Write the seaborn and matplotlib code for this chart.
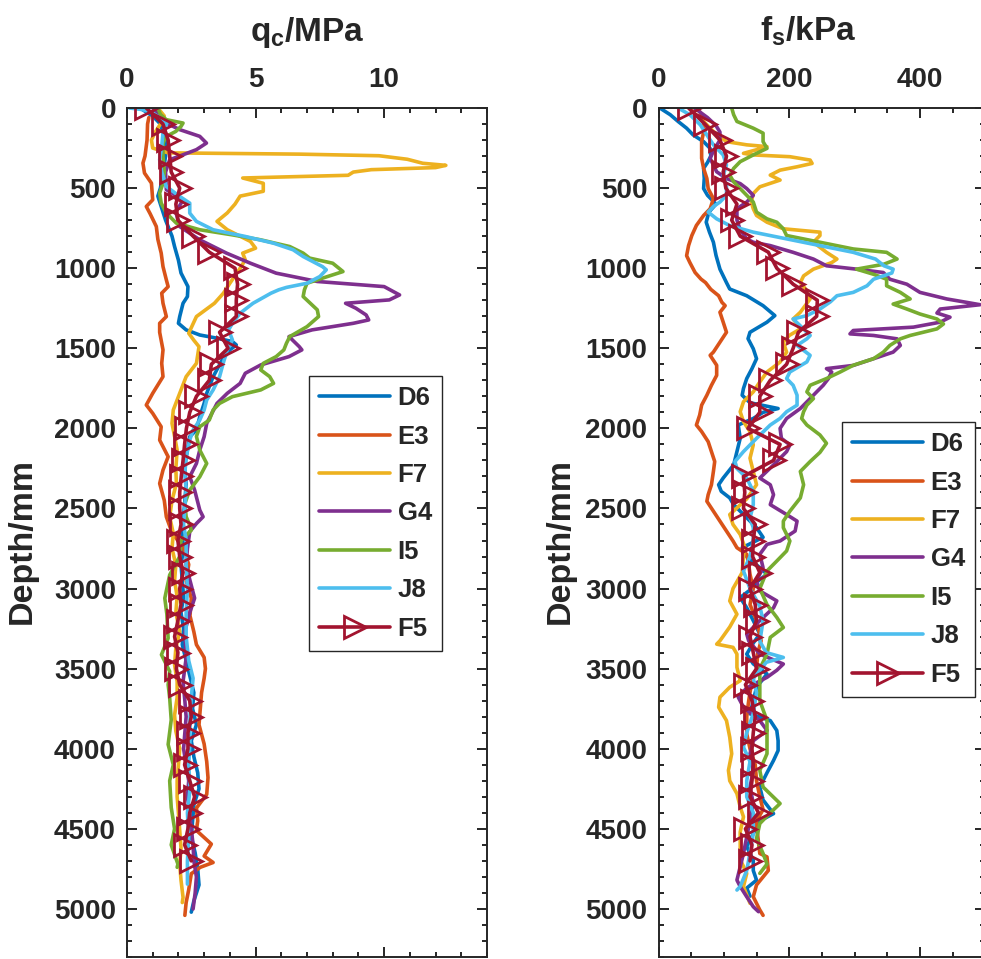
import matplotlib
matplotlib.use('Agg')
import matplotlib.pyplot as plt
import seaborn as sns
from matplotlib.ticker import MultipleLocator

sns.set_style('ticks')
plt.rcParams['font.family'] = ['Liberation Sans', 'DejaVu Sans']
plt.rcParams['font.weight'] = 'bold'
plt.rcParams['mathtext.fontset'] = 'custom'
plt.rcParams['mathtext.rm'] = 'Liberation Sans:bold'
plt.rcParams['mathtext.it'] = 'Liberation Sans:bold'
plt.rcParams['mathtext.bf'] = 'Liberation Sans:bold'

series_names = ['D6', 'E3', 'F7', 'G4', 'I5', 'J8', 'F5']
series_colors = ['#0072BD', '#D95319', '#EDB120', '#7E2F8E', '#77AC30', '#4DBEEE', '#A2142F']

# ---------------- q_c (MPa) : (depth mm, value) ----------------
qc_D6 = [(0,0.5),(50,1.0),(100,1.3),(200,1.5),(300,1.5),(400,1.4),(500,1.3),(550,1.2),(600,1.3),(700,1.5),
         (800,1.75),(865,1.85),(950,2.0),(1030,2.1),(1115,2.37),(1177,2.35),(1219,2.18),(1302,2.05),(1344,2.0),
         (1385,2.3),(1417,2.83),(1437,3.5),(1458,4.1),(1479,4.25),(1510,4.0),(1573,3.7),(1677,3.35),(1781,3.1),
         (1844,3.0),(1927,2.83),(2010,2.7),(2052,2.44),(2135,2.35),(2240,2.24),(2350,2.3),(2450,2.25),(2550,2.2),
         (2650,2.15),(2750,2.2),(2850,2.1),(2950,2.15),(3050,2.2),(3150,2.1),(3250,2.2),(3350,2.15),(3450,2.3),
         (3550,2.45),(3650,2.6),(3750,2.55),(3850,2.7),(3950,2.5),(4050,2.6),(4150,2.75),(4250,2.8),(4350,2.6),
         (4450,2.55),(4550,2.5),(4650,2.65),(4750,2.75),(4850,2.8),(4950,2.6),(5020,2.5)]
qc_E3 = [(60,0.85),(100,0.8),(200,0.78),(300,0.7),(344,0.62),(406,0.68),(469,0.95),(573,1.0),(615,0.75),(660,0.9),
         (740,1.14),(820,1.2),(906,1.33),(990,1.4),(1073,1.53),(1115,1.6),(1156,1.35),(1219,1.4),(1302,1.53),
         (1344,1.27),(1400,1.27),(1510,1.4),(1594,1.35),(1677,1.4),(1781,1.0),(1854,0.75),(1906,1.0),(1990,1.33),
         (2073,1.27),(2177,1.6),(2260,1.4),(2344,1.27),(2450,1.45),(2552,1.53),(2650,1.75),(2750,2.2),(2850,2.4),
         (2950,2.3),(3060,2.5),(3170,2.45),(3270,2.6),(3350,2.7),(3430,3.0),(3500,3.05),(3560,3.0),(3650,2.9),
         (3750,2.85),(3850,2.8),(3970,3.0),(4080,3.1),(4180,3.15),(4285,3.1),(4370,2.7),(4450,2.75),(4510,2.7),
         (4595,3.28),(4670,3.0),(4710,3.35),(4740,2.85),(4780,2.5),(4880,2.4),(4960,2.3),(5040,2.25)]
qc_F7 = [(0,1.2),(50,1.45),(100,1.3),(150,1.1),(200,0.95),(250,1.0),(280,1.6),(288,6.7),(298,9.8),(320,10.9),
         (345,11.5),(358,12.4),(372,12.0),(385,9.5),(400,8.8),(420,8.6),(437,4.5),(470,5.3),(520,5.3),(550,4.4),
         (600,4.2),(655,3.9),(708,3.5),(760,3.9),(833,4.8),(875,5.0),(906,4.5),(948,4.6),(1000,4.4),(1094,4.0),
         (1156,3.75),(1219,3.4),(1302,2.7),(1406,2.4),(1450,2.6),(1490,2.8),(1594,2.7),(1677,2.3),(1781,2.05),
         (1885,1.8),(1969,1.75),(2050,1.85),(2135,1.95),(2250,1.9),(2344,1.92),(2450,1.75),(2552,1.66),(2656,1.8),
         (2750,1.75),(2850,1.9),(2950,1.85),(3050,1.95),(3150,1.9),(3270,2.05),(3370,1.9),(3475,1.85),(3580,1.95),
         (3680,1.95),(3790,1.85),(3890,1.9),(4000,2.05),(4100,2.0),(4200,1.95),(4300,1.95),(4400,2.0),(4510,2.05),
         (4620,2.1),(4720,2.05),(4820,2.1),(4928,2.18),(4960,2.15)]
qc_G4 = [(0,1.0),(50,1.3),(100,1.6),(135,2.05),(177,2.83),(219,3.09),(260,2.7),(292,2.18),(323,1.66),(400,1.5),
         (510,1.53),(573,2.18),(650,1.9),(740,2.05),(823,2.83),(906,3.87),(969,4.8),(1031,5.8),(1083,7.4),
         (1115,10.0),(1167,10.6),(1198,10.2),(1219,8.5),(1250,8.9),(1292,9.3),(1323,9.4),(1344,8.8),(1385,7.2),
         (1427,6.3),(1490,6.7),(1510,6.8),(1552,6.3),(1604,5.2),(1656,4.6),(1719,4.4),(1781,3.9),(1844,3.5),
         (1906,3.3),(1969,3.1),(2052,3.0),(2135,2.83),(2219,2.7),(2302,2.44),(2385,2.63),(2510,2.83),(2552,2.96),
         (2594,2.7),(2645,2.44),(2750,2.35),(2853,2.3),(2950,2.45),(3060,2.63),(3150,2.44),(3270,2.25),(3434,2.3),
         (3580,2.18),(3700,2.25),(3800,2.3),(3900,2.25),(4000,2.2),(4100,2.3),(4200,2.4),(4300,2.35),(4400,2.44),
         (4500,2.5),(4600,2.57),(4700,2.6),(4800,2.7),(4900,2.65),(5000,2.57)]
qc_I5 = [(0,1.2),(40,1.3),(73,1.53),(94,2.18),(115,2.1),(146,1.9),(177,1.53),(219,1.4),(300,1.4),(400,1.45),
         (470,1.4),(531,1.27),(594,1.33),(656,1.53),(719,1.92),(760,2.83),(792,4.1),(823,5.2),(865,6.33),
         (906,6.85),(937,7.1),(969,8.0),(1021,8.4),(1052,7.8),(1094,7.0),(1135,6.9),(1177,6.85),(1260,7.4),
         (1302,7.45),(1365,7.0),(1427,6.33),(1469,6.2),(1510,6.1),(1552,5.8),(1594,5.3),(1635,5.2),(1677,5.55),
         (1719,5.7),(1760,5.2),(1802,4.1),(1844,3.6),(1885,3.35),(1948,3.2),(1990,2.83),(2050,2.7),(2135,2.83),
         (2219,3.1),(2302,2.83),(2385,2.44),(2469,2.25),(2552,2.3),(2604,2.44),(2635,2.5),(2700,2.1),(2800,2.05),
         (2915,1.66),(3060,1.47),(3160,1.55),(3310,1.6),(3413,1.34),(3517,1.66),(3600,1.6),(3683,1.66),
         (3820,1.72),(3973,1.6),(4100,1.8),(4200,1.66),(4367,1.72),(4500,1.85),(4600,1.72),(4720,1.98),(4740,1.95)]
qc_J8 = [(0,0.1),(10,0.6),(31,1.0),(52,1.2),(94,1.55),(156,1.4),(240,1.35),(323,1.27),(400,1.35),(490,1.53),
         (552,2.05),(594,2.44),(656,2.44),(708,2.7),(760,3.35),(802,4.6),(844,5.7),(885,6.46),(927,6.85),
         (948,7.1),(990,7.6),(1010,7.75),(1052,7.5),(1094,7.0),(1120,6.2),(1135,5.9),(1156,5.6),(1219,4.9),
         (1281,4.4),(1344,4.1),(1385,3.95),(1448,4.1),(1510,3.9),(1594,3.74),(1677,3.6),(1760,3.35),(1823,3.1),
         (1885,3.0),(1948,2.83),(2010,2.57),(2073,2.44),(2177,2.3),(2280,2.25),(2385,2.3),(2500,2.25),(2600,2.2),
         (2700,2.3),(2850,2.3),(3000,2.35),(3150,2.3),(3300,2.3),(3450,2.4),(3560,2.57),(3680,2.5),(3800,2.45),
         (3950,2.45),(4100,2.4),(4250,2.45),(4400,2.35),(4550,2.4),(4700,2.35),(4845,2.35)]
F5_depth = [0, 100, 200, 300, 400, 500, 600, 700, 800, 900, 1000, 1100, 1200, 1300, 1400, 1500, 1600, 1700,
            1800, 1900, 2000, 2100, 2200, 2300, 2400, 2500, 2600, 2700, 2800, 2900, 3000, 3100, 3200, 3300,
            3400, 3500, 3600, 3700, 3800, 3900, 4000, 4100, 4200, 4300, 4400, 4500, 4600, 4700]
qc_F5 = [0.75, 1.4, 1.6, 1.66, 1.72, 2.05, 1.9, 1.98, 2.57, 3.2, 4.2, 4.3, 4.25, 4.25, 3.6, 3.93, 3.28, 3.2,
         2.7, 2.44, 2.31, 2.24, 2.18, 2.11, 2.05, 2.05, 2.1, 1.98, 2.05, 2.18, 2.05, 2.1, 1.98, 1.85,
         1.98, 1.92, 2.05, 2.44, 2.5, 2.37, 2.37, 2.24, 2.44, 2.63, 2.44, 2.37, 2.24, 2.5]

# ---------------- f_s (kPa) : (depth mm, value) ----------------
fs_D6 = [(0,2),(42,18),(84,30),(126,43),(168,53),(210,69),(252,79),(300,80),(340,75),(377,69),(440,70),(503,69),
         (545,75),(600,88),(650,77),(713,73),(775,78),(838,84),(920,88),(1006,94),(1090,104),(1130,109),(1172,135),
         (1234,160),(1296,178),(1337,166),(1400,140),(1440,137),(1503,145),(1565,150),(1627,143),(1689,135),
         (1751,130),(1793,128),(1840,140),(1876,183),(1900,160),(1938,145),(1979,122),(2062,125),(2145,120),
         (2228,115),(2310,99),(2352,92),(2393,96),(2434,109),(2476,115),(2517,125),(2558,135),(2620,150),
         (2680,160),(2745,128),(2800,135),(2870,155),(2910,166),(2960,150),(3000,143),(3056,125),(3120,135),
         (3200,145),(3284,155),(3340,145),(3409,135),(3470,145),(3533,166),(3616,150),(3700,145),(3782,140),
         (3824,171),(3886,181),(3950,183),(4011,183),(4073,176),(4150,166),(4239,155),(4320,160),(4405,176),
         (4450,155),(4530,145),(4612,135),(4695,145),(4760,145),(4820,150),(4870,135),(4920,140)]
fs_E3 = [(0,60),(60,68),(130,70),(210,66),(314,66),(377,69),(440,74),(503,76),(566,84),(629,79),(671,69),(733,58),
         (796,51),(859,46),(922,43),(965,48),(1027,56),(1068,65),(1090,72),(1132,80),(1172,92),(1213,97),(1234,102),
         (1275,94),(1337,99),(1400,104),(1462,94),(1524,84),(1544,79),(1606,89),(1669,89),(1731,81),(1793,74),
         (1855,66),(1917,63),(1979,58),(2020,66),(2083,76),(2145,81),(2207,86),(2269,84),(2352,81),(2414,76),
         (2455,74),(2517,84),(2579,94),(2641,104),(2703,114),(2745,120),(2786,135),(2850,138),(2911,140),(3000,145),
         (3100,140),(3200,150),(3326,157),(3400,152),(3500,150),(3600,142),(3700,138),(3800,135),(3907,135),
         (4000,140),(4100,148),(4200,150),(4300,155),(4380,160),(4450,150),(4550,152),(4654,155),(4675,166),
         (4760,168),(4850,150),(4924,145),(5006,155),(5040,160)]
fs_F7 = [(0,48),(42,57),(84,69),(147,84),(210,104),(230,135),(241,166),(255,155),(283,130),(293,145),(304,201),
         (325,232),(346,235),(367,212),(388,186),(419,171),(450,186),(492,155),(534,145),(587,142),(629,145),
         (671,150),(713,166),(754,191),(775,247),(796,247),(838,237),(901,257),(943,273),(965,265),(1006,237),
         (1048,222),(1090,217),(1130,225),(1192,232),(1275,217),(1317,206),(1379,217),(1420,200),(1462,191),
         (1524,196),(1586,186),(1648,166),(1710,155),(1772,145),(1834,130),(1896,125),(1958,130),(2020,140),
         (2103,145),(2186,140),(2269,145),(2352,150),(2440,135),(2538,109),(2600,114),(2662,125),(2740,132),
         (2800,130),(2900,128),(3000,114),(3077,109),(3160,120),(3240,109),(3326,94),(3347,89),(3367,114),
         (3409,120),(3492,120),(3575,125),(3616,109),(3678,94),(3741,92),(3824,104),(3928,109),(4031,112),
         (4135,107),(4200,109),(4280,120),(4363,125),(4425,130),(4520,125),(4612,125),(4700,126),(4778,135),
         (4860,130),(4965,140)]
fs_G4 = [(0,55),(60,75),(110,88),(150,94),(200,94),(260,85),(314,79),(356,84),(398,89),(440,104),(472,125),
         (503,135),(545,145),(587,135),(629,120),(700,120),(760,125),(817,135),(838,145),(859,171),(901,206),
         (943,237),(985,257),(1006,303),(1027,344),(1069,354),(1100,380),(1151,400),(1192,441),(1213,471),
         (1228,492),(1255,431),(1280,426),(1306,446),(1337,431),(1368,390),(1389,298),(1410,293),(1420,329),
         (1441,365),(1482,370),(1524,359),(1565,329),(1607,298),(1627,257),(1648,265),(1689,260),(1731,252),
         (1772,242),(1814,232),(1876,217),(1938,196),(2000,186),(2062,188),(2103,201),(2145,196),(2228,176),
         (2310,155),(2352,171),(2414,176),(2476,171),(2538,196),(2579,212),(2641,209),(2703,186),(2724,166),
         (2786,155),(2870,160),(2950,150),(3015,155),(3077,181),(3120,176),(3200,155),(3284,135),(3326,138),
         (3409,155),(3471,191),(3510,181),(3554,166),(3620,135),(3678,122),(3740,130),(3824,155),(3886,166),
         (3950,145),(4031,140),(4135,145),(4239,140),(4342,145),(4446,140),(4550,135),(4654,130),(4737,125),
         (4820,120),(4860,125),(4924,135),(4986,145),(5017,153)]
fs_I5 = [(0,112),(42,115),(84,120),(126,145),(157,160),(210,160),(252,166),(293,145),(335,125),(377,115),
         (419,109),(461,115),(503,125),(545,135),(587,145),(650,150),(692,166),(713,181),(754,191),(796,196),
         (838,247),(880,298),(901,349),(943,365),(975,345),(1006,303),(1038,329),(1069,349),(1110,349),(1151,370),
         (1192,385),(1224,359),(1255,380),(1286,400),(1317,426),(1348,436),(1379,426),(1420,385),(1441,370),
         (1482,354),(1524,344),(1565,329),(1606,298),(1648,278),(1689,257),(1731,232),(1772,227),(1814,237),
         (1855,227),(1896,222),(1938,219),(1979,227),(2041,247),(2093,257),(2150,247),(2207,232),(2269,217),
         (2352,222),(2434,217),(2517,201),(2579,191),(2620,191),(2703,201),(2765,196),(2828,181),(2890,166),
         (3000,155),(3100,166),(3180,181),(3243,191),(3305,171),(3409,166),(3500,155),(3600,155),(3700,155),
         (3824,166),(3928,166),(4031,166),(4135,155),(4239,160),(4342,186),(4400,171),(4467,155),(4560,150),
         (4654,160),(4720,166),(4778,155)]
fs_J8 = [(0,30),(42,48),(105,64),(168,74),(230,84),(293,99),(356,104),(419,99),(482,104),(545,104),(587,94),
         (615,84),(650,76),(692,89),(734,109),(775,145),(817,196),(859,247),(901,298),(943,332),(985,345),
         (1006,359),(1030,357),(1069,329),(1110,319),(1151,298),(1172,273),(1210,263),(1255,247),(1296,227),
         (1317,206),(1360,217),(1420,232),(1441,227),(1482,212),(1544,232),(1585,227),(1648,201),(1689,196),
         (1731,206),(1793,212),(1855,212),(1896,196),(1938,186),(1979,171),(2062,150),(2145,130),(2207,117),
         (2250,120),(2310,135),(2393,145),(2476,145),(2560,140),(2620,145),(2700,145),(2800,140),(2890,130),
         (3000,140),(3110,155),(3200,160),(3330,155),(3400,165),(3430,191),(3460,165),(3560,145),(3650,150),
         (3780,145),(3900,135),(3990,130),(4080,140),(4200,135),(4300,135),(4400,145),(4530,145),(4650,140),
         (4760,135),(4860,125),(4882,120)]
fs_F5 = [46, 71, 94, 104, 99, 103, 120, 112, 125, 168, 181, 206, 243, 242, 214, 206, 196, 171, 155, 155,
         137, 186, 176, 130, 132, 130, 148, 145, 144, 155, 140, 148, 150, 140, 145, 150, 133, 143, 148, 145,
         143, 145, 143, 140, 153, 133, 143, 140]

qc_lines = [qc_D6, qc_E3, qc_F7, qc_G4, qc_I5, qc_J8]
fs_lines = [fs_D6, fs_E3, fs_F7, fs_G4, fs_I5, fs_J8]

INK = '#262626'
LW = 2.6

fig = plt.figure(figsize=(9.81, 9.59), dpi=100)
ax1 = fig.add_axes([127/981, 2/959, 360/981, 849/959])
ax2 = fig.add_axes([658.5/981, 2/959, 326.8/981, 849/959])


def draw_panel(ax, lines, f5_vals, xmax, xmajor, xminor, xlabel, legend_xy):
    for name, color, pts in zip(series_names[:-1], series_colors[:-1], lines):
        depth = [p[0] for p in pts]
        val = [p[1] for p in pts]
        sns.lineplot(x=val, y=depth, ax=ax, orient='y', sort=False, estimator=None,
                     color=color, linewidth=LW, label=name)
    sns.lineplot(x=f5_vals, y=F5_depth, ax=ax, orient='y', sort=False, estimator=None,
                 color=series_colors[-1], linewidth=LW, marker='>', markersize=15.5,
                 markerfacecolor='none', markeredgecolor=series_colors[-1],
                 markeredgewidth=2.0, label=series_names[-1])
    ax.set_xlim(0, xmax)
    ax.set_ylim(5300, 0)
    ax.xaxis.set_major_locator(MultipleLocator(xmajor))
    ax.xaxis.set_minor_locator(MultipleLocator(xminor))
    ax.yaxis.set_major_locator(MultipleLocator(500))
    ax.yaxis.set_minor_locator(MultipleLocator(100))
    ax.xaxis.tick_top()
    ax.tick_params(which='both', direction='in', top=True, bottom=True, left=True, right=True,
                   labeltop=True, labelbottom=False, colors=INK, width=1.4)
    ax.tick_params(which='major', length=7, labelsize=20)
    ax.tick_params(which='minor', length=3.6)
    ax.tick_params(axis='x', which='major', pad=11)
    ax.tick_params(axis='y', which='major', pad=8)
    for lab in ax.get_xticklabels() + ax.get_yticklabels():
        lab.set_fontweight('bold')
        lab.set_color(INK)
    for sp in ax.spines.values():
        sp.set_color(INK)
        sp.set_linewidth(1.4)
    ax.xaxis.set_label_position('top')
    ax.set_xlabel(xlabel, fontsize=24, fontweight='bold', color=INK)
    ax.set_ylabel('Depth/mm', fontsize=24.5, fontweight='bold', color=INK)
    handles, labels = ax.get_legend_handles_labels()
    leg = ax.legend(handles, labels, loc='upper left', bbox_to_anchor=legend_xy,
                    bbox_transform=fig.transFigure, borderaxespad=0,
                    frameon=True, fancybox=False, framealpha=1, edgecolor=INK,
                    handlelength=2.75, handletextpad=0.3, labelspacing=0.56, borderpad=0.4,
                    prop={'weight': 'bold', 'size': 18.5})
    leg.get_frame().set_linewidth(1.0)


draw_panel(ax1, qc_lines, qc_F5, 14, 5, 1, 'q$_{c}$/MPa', (309/981, 1 - 376/959))
draw_panel(ax2, fs_lines, fs_F5, 500, 200, 50, 'f$_{s}$/kPa', (842/981, 1 - 422/959))

ax1.xaxis.set_label_coords(0.5, 1 + (108 - 41) / 849)
ax2.xaxis.set_label_coords((808 - 658.5) / 326.8, 1 + (108 - 41) / 849)
ax1.yaxis.set_label_coords((38 - 127) / 360, 1 - (541 - 108) / 849)
ax2.yaxis.set_label_coords((576 - 658.5) / 326.8, 1 - (541 - 108) / 849)

fig.savefig('out.png', dpi=100)
